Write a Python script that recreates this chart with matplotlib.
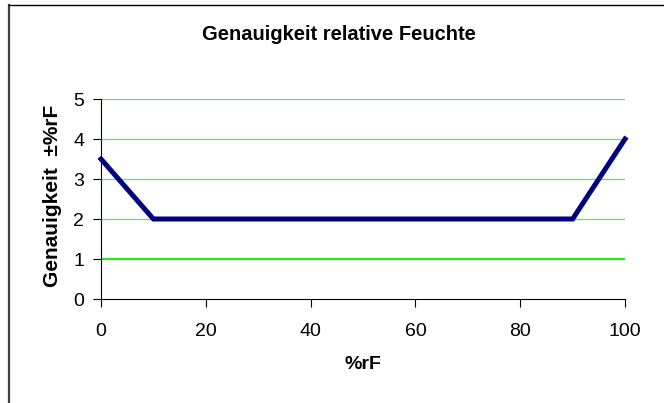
import matplotlib
matplotlib.use("Agg")
import matplotlib.pyplot as plt
from matplotlib.lines import Line2D

# data
rf = [0, 10, 80, 90, 100]
genauigkeit = [3.5, 2, 2, 2, 4]
ref_x = [0, 100]
ref_y = [1, 1]
x_ticks = [0, 20, 40, 60, 80, 100]
y_ticks = [0, 1, 2, 3, 4, 5]

plt.rcParams['font.family'] = ['Liberation Sans', 'DejaVu Sans']

W, H = 664, 403
fig = plt.figure(figsize=(W / 100, H / 100), dpi=100)
ax = fig.add_axes([101 / W, 1 - 299 / H, 524 / W, 200 / H])

# horizontal gridlines, light green
for v in y_ticks[1:]:
    ax.axhline(v, color='#4cf04c', lw=0.9, zorder=1)

ax.plot(ref_x, ref_y, color='#1aee1a', lw=1.4, zorder=2)
ax.plot(rf, genauigkeit, color='#000080', lw=3.6, zorder=3,
        solid_joinstyle='miter', clip_on=False)

ax.set_xlim(0, 100)
ax.set_ylim(0, 5)
ax.set_xticks(x_ticks)
ax.set_yticks(y_ticks)
ax.tick_params(axis='both', direction='out', length=6, width=0.8,
               labelsize=14, color='black')
ax.tick_params(axis='x', pad=11)
ax.tick_params(axis='y', pad=6)
for s in ['top', 'right']:
    ax.spines[s].set_visible(False)
for s in ['left', 'bottom']:
    ax.spines[s].set_linewidth(0.8)

ax.set_xlabel('%rF', fontsize=14, fontweight='bold', labelpad=12)
fig.text(53 / W, 1 - 196 / H, 'Genauigkeit  \u00b1%rF', rotation=90,
         fontsize=15, fontweight='bold', ha='center', va='center')
fig.text(339 / W, 1 - 35 / H, 'Genauigkeit relative Feuchte',
         fontsize=14.5, fontweight='bold', ha='center', va='center')

# chart area border (left and top edges visible)
fig.add_artist(Line2D([9 / W, 9 / W], [0, 1 - 5 / H], transform=fig.transFigure,
                      color='#404040', lw=1.6))
fig.add_artist(Line2D([9 / W, 1], [1 - 5 / H, 1 - 5 / H], transform=fig.transFigure,
                      color='black', lw=1.0))

fig.savefig('out.png', dpi=100)
